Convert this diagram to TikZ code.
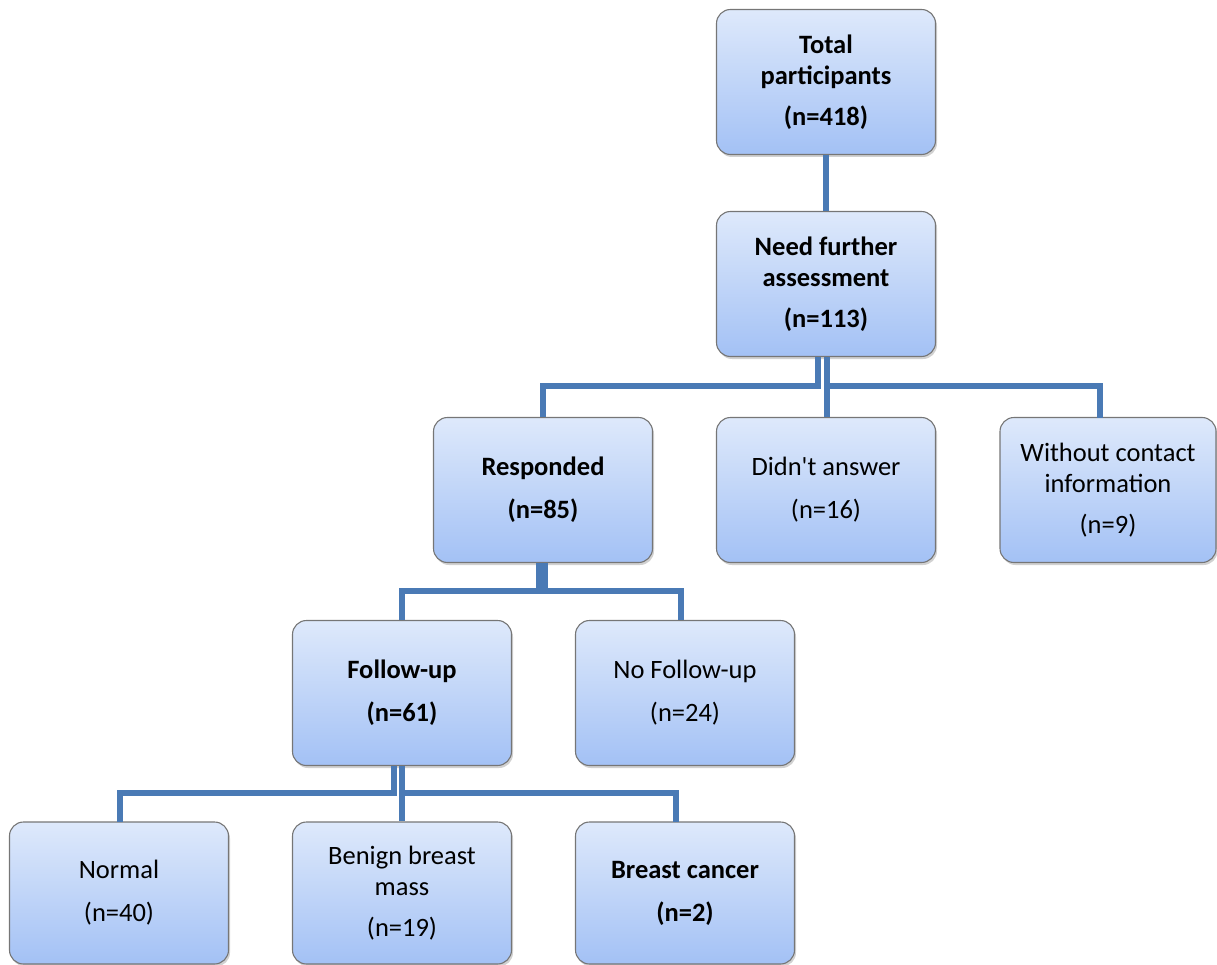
\documentclass[tikz,border=0pt]{standalone}
\usepackage{fontspec}
\setmainfont{Carlito}
\usetikzlibrary{shadows}
\definecolor{linkblue}{HTML}{4A7AB5}
\definecolor{boxtop}{HTML}{DEE9FB}
\definecolor{boxbot}{HTML}{A3C1F5}
\definecolor{boxedge}{HTML}{767676}
\tikzset{
  flowbox/.style={draw=boxedge, line width=1.1pt, rounded corners=14pt,
    top color=boxtop, bottom color=boxbot,
    minimum width=219pt, minimum height=145pt, inner sep=0pt,
    align=center, font=\fontsize{26.5}{31}\selectfont,
    drop shadow={shadow xshift=1.5pt, shadow yshift=-2.5pt, opacity=0.3, fill=black!60}},
  boldbox/.style={flowbox, font=\fontsize{26.5}{31}\selectfont\bfseries},
  link/.style={draw=linkblue, line width=5.5pt}
}
\begin{document}
\begin{tikzpicture}[x=1pt, y=-1pt]
\useasboundingbox (0,0) rectangle (1217,965);
\node[boldbox] (total) at (826,82) {Total\\participants\\[10pt](n=418)};
\node[boldbox] (need) at (826,284) {Need further\\assessment\\[10pt](n=113)};
\node[boldbox] (resp) at (543,490) {Responded\\[12pt](n=85)};
\node[flowbox] (didnt) at (826,490) {Didn\textquotesingle t answer\\[12pt](n=16)};
\node[flowbox, minimum width=216pt] (without) at (1108,490) {Without contact\\information\\[10pt](n=9)};
\node[boldbox] (follow) at (402,693) {Follow-up\\[12pt](n=61)};
\node[flowbox] (nofollow) at (685,693) {No Follow-up\\[12pt](n=24)};
\node[flowbox, minimum height=142pt] (normal) at (119,893) {Normal\\[12pt](n=40)};
\node[flowbox, minimum height=142pt] (benign) at (402,893) {Benign breast\\mass\\[10pt](n=19)};
\node[boldbox, minimum height=142pt] (cancer) at (685,893) {Breast cancer\\[12pt](n=2)};

% Total -> Need
\draw[link] (total.south) -- (need.north);
% Need -> children
\coordinate (nL) at (818,386);
\coordinate (nR) at (827,386);
\draw[link] (need.south -| nL) -- (nL) -| (resp.north);
\draw[link] (need.south -| nR) -- (didnt.north -| nR);
\coordinate (wtop) at (1100,418);
\draw[link] (nR) -| (wtop);
% Responded -> children
\coordinate (rL) at (539,591);
\coordinate (rR) at (545,591);
\coordinate (nftop) at (681,620);
\draw[link] (resp.south -| rL) -- (rL) -| (follow.north);
\draw[link] (resp.south -| rR) -- (rR) -| (nftop);
% Follow-up -> children
\coordinate (fL) at (394,793);
\coordinate (fR) at (402,793);
\coordinate (ntop) at (120,822);
\coordinate (ctop) at (676,822);
\draw[link] (follow.south -| fL) -- (fL) -| (ntop);
\draw[link] (follow.south -| fR) -- (benign.north -| fR);
\draw[link] (fR) -| (ctop);
\end{tikzpicture}
\end{document}
